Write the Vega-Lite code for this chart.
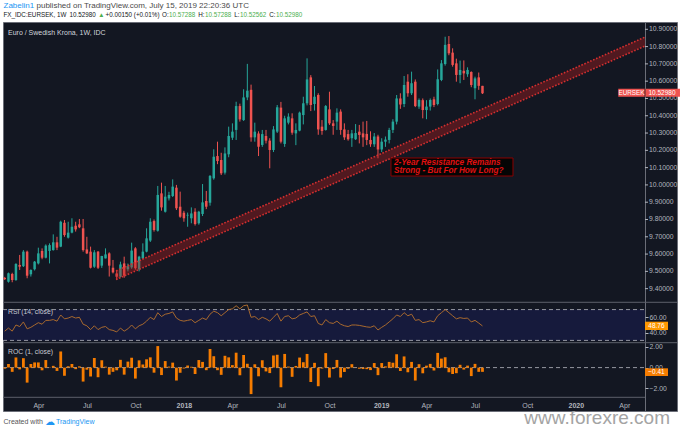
{
"$schema": "https://vega.github.io/schema/vega-lite/v6.json",
"width": 674, "height": 389,
"autosize": {"type": "none"},
"padding": {"left": 3, "top": 22, "right": 3, "bottom": 19},
"background": "#ffffff",
"config": {"font": "Liberation Sans", "view": {"fill": "#131722", "stroke": "#6b6e78", "strokeWidth": 1}, "axis": {"grid": false, "labelOverlap": false}},
"data": {"values": [{"k": 1}]},
"datasets": {
"pt": [{"v":9.4},{"v":9.5},{"v":9.6},{"v":9.7},{"v":9.8},{"v":9.9},{"v":10.0},{"v":10.1},{"v":10.2},{"v":10.3},{"v":10.4},{"v":10.5},{"v":10.6},{"v":10.7},{"v":10.8},{"v":10.9}],
"w": [
{"d":"2017-01-30","o":9.462,"h":9.468,"l":9.450,"c":9.455,"rsi":42,"roc":-0.10},
{"d":"2017-02-06","o":9.440,"h":9.493,"l":9.435,"c":9.489,"rsi":46,"roc":0.36},
{"d":"2017-02-13","o":9.485,"h":9.492,"l":9.437,"c":9.450,"rsi":42,"roc":-0.41},
{"d":"2017-02-20","o":9.450,"h":9.547,"l":9.445,"c":9.543,"rsi":50,"roc":0.98},
{"d":"2017-02-27","o":9.537,"h":9.595,"l":9.508,"c":9.527,"rsi":48,"roc":-0.17},
{"d":"2017-03-06","o":9.530,"h":9.623,"l":9.525,"c":9.614,"rsi":54,"roc":0.91},
{"d":"2017-03-13","o":9.614,"h":9.620,"l":9.460,"c":9.475,"rsi":45,"roc":-1.45},
{"d":"2017-03-20","o":9.483,"h":9.512,"l":9.470,"c":9.508,"rsi":47,"roc":0.35},
{"d":"2017-03-27","o":9.512,"h":9.560,"l":9.505,"c":9.556,"rsi":50,"roc":0.50},
{"d":"2017-04-03","o":9.546,"h":9.637,"l":9.540,"c":9.604,"rsi":53,"roc":0.50},
{"d":"2017-04-10","o":9.618,"h":9.633,"l":9.570,"c":9.579,"rsi":51,"roc":-0.26},
{"d":"2017-04-17","o":9.579,"h":9.656,"l":9.575,"c":9.649,"rsi":56,"roc":0.73},
{"d":"2017-04-24","o":9.618,"h":9.662,"l":9.546,"c":9.652,"rsi":56,"roc":0.03},
{"d":"2017-05-01","o":9.623,"h":9.714,"l":9.620,"c":9.668,"rsi":57,"roc":0.17},
{"d":"2017-05-08","o":9.668,"h":9.700,"l":9.623,"c":9.637,"rsi":55,"roc":-0.32},
{"d":"2017-05-15","o":9.643,"h":9.793,"l":9.640,"c":9.787,"rsi":63,"roc":1.56},
{"d":"2017-05-22","o":9.781,"h":9.797,"l":9.700,"c":9.710,"rsi":58,"roc":-0.79},
{"d":"2017-05-29","o":9.695,"h":9.787,"l":9.690,"c":9.724,"rsi":59,"roc":0.14},
{"d":"2017-06-05","o":9.724,"h":9.807,"l":9.720,"c":9.758,"rsi":61,"roc":0.35},
{"d":"2017-06-12","o":9.764,"h":9.787,"l":9.730,"c":9.743,"rsi":59,"roc":-0.15},
{"d":"2017-06-19","o":9.772,"h":9.803,"l":9.750,"c":9.755,"rsi":60,"roc":0.12},
{"d":"2017-06-26","o":9.749,"h":9.803,"l":9.614,"c":9.623,"rsi":51,"roc":-1.35},
{"d":"2017-07-03","o":9.627,"h":9.700,"l":9.600,"c":9.604,"rsi":49,"roc":-0.20},
{"d":"2017-07-10","o":9.614,"h":9.643,"l":9.517,"c":9.521,"rsi":44,"roc":-0.86},
{"d":"2017-07-17","o":9.527,"h":9.623,"l":9.520,"c":9.610,"rsi":49,"roc":0.93},
{"d":"2017-07-24","o":9.614,"h":9.618,"l":9.514,"c":9.521,"rsi":44,"roc":-0.93},
{"d":"2017-07-31","o":9.533,"h":9.590,"l":9.520,"c":9.589,"rsi":47,"roc":0.71},
{"d":"2017-08-07","o":9.575,"h":9.633,"l":9.575,"c":9.598,"rsi":48,"roc":0.09},
{"d":"2017-08-14","o":9.604,"h":9.610,"l":9.470,"c":9.533,"rsi":44,"roc":-0.68},
{"d":"2017-08-21","o":9.521,"h":9.566,"l":9.488,"c":9.494,"rsi":43,"roc":-0.41},
{"d":"2017-08-28","o":9.488,"h":9.508,"l":9.450,"c":9.469,"rsi":41,"roc":-0.26},
{"d":"2017-09-04","o":9.469,"h":9.556,"l":9.465,"c":9.540,"rsi":46,"roc":0.75},
{"d":"2017-09-11","o":9.546,"h":9.585,"l":9.463,"c":9.475,"rsi":42,"roc":-0.68},
{"d":"2017-09-18","o":9.512,"h":9.545,"l":9.500,"c":9.530,"rsi":45,"roc":0.58},
{"d":"2017-09-25","o":9.523,"h":9.666,"l":9.515,"c":9.620,"rsi":50,"roc":0.94},
{"d":"2017-10-02","o":9.633,"h":9.640,"l":9.510,"c":9.518,"rsi":45,"roc":-1.06},
{"d":"2017-10-09","o":9.512,"h":9.590,"l":9.500,"c":9.585,"rsi":49,"roc":0.70},
{"d":"2017-10-16","o":9.575,"h":9.662,"l":9.570,"c":9.614,"rsi":51,"roc":0.30},
{"d":"2017-10-23","o":9.614,"h":9.749,"l":9.610,"c":9.691,"rsi":55,"roc":0.80},
{"d":"2017-10-30","o":9.678,"h":9.807,"l":9.670,"c":9.787,"rsi":60,"roc":0.99},
{"d":"2017-11-06","o":9.791,"h":9.800,"l":9.730,"c":9.739,"rsi":57,"roc":-0.49},
{"d":"2017-11-13","o":9.735,"h":9.994,"l":9.730,"c":9.942,"rsi":66,"roc":2.08},
{"d":"2017-11-20","o":9.951,"h":10.013,"l":9.851,"c":9.870,"rsi":61,"roc":-0.72},
{"d":"2017-11-27","o":9.845,"h":9.994,"l":9.840,"c":9.932,"rsi":64,"roc":0.63},
{"d":"2017-12-04","o":9.922,"h":9.960,"l":9.910,"c":9.942,"rsi":65,"roc":0.10},
{"d":"2017-12-11","o":9.936,"h":10.032,"l":9.930,"c":9.990,"rsi":67,"roc":0.48},
{"d":"2017-12-18","o":9.984,"h":10.000,"l":9.855,"c":9.865,"rsi":59,"roc":-1.25},
{"d":"2017-12-25","o":9.874,"h":9.961,"l":9.810,"c":9.816,"rsi":56,"roc":-0.50},
{"d":"2018-01-01","o":9.839,"h":9.850,"l":9.787,"c":9.807,"rsi":55,"roc":-0.09},
{"d":"2018-01-08","o":9.823,"h":9.840,"l":9.758,"c":9.827,"rsi":56,"roc":0.20},
{"d":"2018-01-15","o":9.807,"h":9.870,"l":9.778,"c":9.835,"rsi":57,"roc":0.08},
{"d":"2018-01-22","o":9.845,"h":9.865,"l":9.765,"c":9.774,"rsi":53,"roc":-0.62},
{"d":"2018-01-29","o":9.778,"h":9.850,"l":9.770,"c":9.845,"rsi":56,"roc":0.73},
{"d":"2018-02-05","o":9.832,"h":10.005,"l":9.820,"c":9.899,"rsi":59,"roc":0.55},
{"d":"2018-02-12","o":9.907,"h":9.965,"l":9.860,"c":9.874,"rsi":57,"roc":-0.25},
{"d":"2018-02-19","o":9.897,"h":10.057,"l":9.880,"c":10.052,"rsi":64,"roc":1.80},
{"d":"2018-02-26","o":10.038,"h":10.206,"l":10.030,"c":10.163,"rsi":68,"roc":1.10},
{"d":"2018-03-05","o":10.167,"h":10.250,"l":10.120,"c":10.138,"rsi":66,"roc":-0.25},
{"d":"2018-03-12","o":10.144,"h":10.186,"l":10.057,"c":10.067,"rsi":62,"roc":-0.70},
{"d":"2018-03-19","o":10.071,"h":10.217,"l":10.060,"c":10.182,"rsi":66,"roc":1.14},
{"d":"2018-03-26","o":10.177,"h":10.337,"l":10.160,"c":10.283,"rsi":70,"roc":0.99},
{"d":"2018-04-02","o":10.273,"h":10.356,"l":10.260,"c":10.308,"rsi":71,"roc":0.24},
{"d":"2018-04-09","o":10.318,"h":10.481,"l":10.260,"c":10.456,"rsi":75,"roc":1.44},
{"d":"2018-04-16","o":10.456,"h":10.470,"l":10.366,"c":10.379,"rsi":71,"roc":-0.74},
{"d":"2018-04-23","o":10.375,"h":10.553,"l":10.370,"c":10.506,"rsi":75,"roc":1.22},
{"d":"2018-04-30","o":10.506,"h":10.700,"l":10.490,"c":10.545,"rsi":76,"roc":0.37},
{"d":"2018-05-07","o":10.550,"h":10.580,"l":10.250,"c":10.275,"rsi":60,"roc":-2.56},
{"d":"2018-05-14","o":10.275,"h":10.360,"l":10.250,"c":10.308,"rsi":61,"roc":0.32},
{"d":"2018-05-21","o":10.298,"h":10.310,"l":10.167,"c":10.221,"rsi":57,"roc":-0.84},
{"d":"2018-05-28","o":10.231,"h":10.318,"l":10.220,"c":10.294,"rsi":60,"roc":0.71},
{"d":"2018-06-04","o":10.283,"h":10.318,"l":10.240,"c":10.256,"rsi":58,"roc":-0.37},
{"d":"2018-06-11","o":10.256,"h":10.270,"l":10.096,"c":10.202,"rsi":55,"roc":-0.53},
{"d":"2018-06-18","o":10.202,"h":10.340,"l":10.190,"c":10.321,"rsi":60,"roc":1.17},
{"d":"2018-06-25","o":10.308,"h":10.462,"l":10.300,"c":10.449,"rsi":65,"roc":1.24},
{"d":"2018-07-02","o":10.447,"h":10.480,"l":10.240,"c":10.250,"rsi":55,"roc":-1.90},
{"d":"2018-07-09","o":10.237,"h":10.400,"l":10.220,"c":10.385,"rsi":61,"roc":1.32},
{"d":"2018-07-16","o":10.360,"h":10.414,"l":10.350,"c":10.395,"rsi":62,"roc":0.10},
{"d":"2018-07-23","o":10.385,"h":10.414,"l":10.290,"c":10.302,"rsi":58,"roc":-0.89},
{"d":"2018-07-30","o":10.298,"h":10.356,"l":10.230,"c":10.318,"rsi":59,"roc":0.16},
{"d":"2018-08-06","o":10.314,"h":10.424,"l":10.310,"c":10.418,"rsi":63,"roc":0.97},
{"d":"2018-08-13","o":10.404,"h":10.510,"l":10.350,"c":10.472,"rsi":65,"roc":0.52},
{"d":"2018-08-20","o":10.472,"h":10.732,"l":10.460,"c":10.610,"rsi":67,"roc":1.32},
{"d":"2018-08-27","o":10.622,"h":10.635,"l":10.427,"c":10.462,"rsi":61,"roc":-1.39},
{"d":"2018-09-03","o":10.468,"h":10.572,"l":10.430,"c":10.510,"rsi":62,"roc":0.46},
{"d":"2018-09-10","o":10.520,"h":10.530,"l":10.290,"c":10.321,"rsi":52,"roc":-1.80},
{"d":"2018-09-17","o":10.337,"h":10.375,"l":10.290,"c":10.312,"rsi":50,"roc":-0.09},
{"d":"2018-09-24","o":10.318,"h":10.462,"l":10.314,"c":10.456,"rsi":57,"roc":1.40},
{"d":"2018-10-01","o":10.437,"h":10.539,"l":10.347,"c":10.356,"rsi":53,"roc":-0.96},
{"d":"2018-10-08","o":10.356,"h":10.375,"l":10.290,"c":10.341,"rsi":52,"roc":-0.14},
{"d":"2018-10-15","o":10.366,"h":10.443,"l":10.318,"c":10.418,"rsi":55,"roc":0.74},
{"d":"2018-10-22","o":10.424,"h":10.437,"l":10.290,"c":10.318,"rsi":51,"roc":-0.96},
{"d":"2018-10-29","o":10.321,"h":10.356,"l":10.260,"c":10.275,"rsi":49,"roc":-0.42},
{"d":"2018-11-05","o":10.294,"h":10.318,"l":10.256,"c":10.264,"rsi":48,"roc":-0.11},
{"d":"2018-11-12","o":10.270,"h":10.318,"l":10.220,"c":10.298,"rsi":50,"roc":0.33},
{"d":"2018-11-19","o":10.264,"h":10.352,"l":10.260,"c":10.300,"rsi":50,"roc":0.02},
{"d":"2018-11-26","o":10.308,"h":10.347,"l":10.240,"c":10.289,"rsi":49.5,"roc":-0.11},
{"d":"2018-12-03","o":10.298,"h":10.366,"l":10.220,"c":10.275,"rsi":48.5,"roc":-0.14},
{"d":"2018-12-10","o":10.295,"h":10.370,"l":10.230,"c":10.260,"rsi":47.5,"roc":-0.15},
{"d":"2018-12-17","o":10.260,"h":10.310,"l":10.220,"c":10.235,"rsi":47,"roc":-0.24},
{"d":"2018-12-24","o":10.235,"h":10.300,"l":10.220,"c":10.280,"rsi":49,"roc":0.44},
{"d":"2018-12-31","o":10.280,"h":10.290,"l":10.154,"c":10.205,"rsi":43.5,"roc":-0.73},
{"d":"2019-01-07","o":10.205,"h":10.270,"l":10.190,"c":10.250,"rsi":47,"roc":0.44},
{"d":"2019-01-14","o":10.250,"h":10.280,"l":10.220,"c":10.262,"rsi":50,"roc":0.12},
{"d":"2019-01-21","o":10.260,"h":10.330,"l":10.240,"c":10.318,"rsi":54,"roc":0.55},
{"d":"2019-01-28","o":10.318,"h":10.380,"l":10.300,"c":10.366,"rsi":58,"roc":0.47},
{"d":"2019-02-04","o":10.366,"h":10.520,"l":10.350,"c":10.500,"rsi":63,"roc":1.29},
{"d":"2019-02-11","o":10.500,"h":10.530,"l":10.440,"c":10.465,"rsi":61,"roc":-0.33},
{"d":"2019-02-18","o":10.468,"h":10.630,"l":10.450,"c":10.578,"rsi":66,"roc":1.08},
{"d":"2019-02-25","o":10.597,"h":10.640,"l":10.510,"c":10.530,"rsi":62,"roc":-0.45},
{"d":"2019-03-04","o":10.530,"h":10.655,"l":10.520,"c":10.588,"rsi":64,"roc":0.55},
{"d":"2019-03-11","o":10.597,"h":10.610,"l":10.450,"c":10.456,"rsi":56,"roc":-1.25},
{"d":"2019-03-18","o":10.453,"h":10.500,"l":10.440,"c":10.491,"rsi":57,"roc":0.33},
{"d":"2019-03-25","o":10.490,"h":10.500,"l":10.385,"c":10.433,"rsi":53,"roc":-0.55},
{"d":"2019-04-01","o":10.433,"h":10.490,"l":10.380,"c":10.453,"rsi":54,"roc":0.19},
{"d":"2019-04-08","o":10.453,"h":10.500,"l":10.430,"c":10.491,"rsi":55.5,"roc":0.36},
{"d":"2019-04-15","o":10.495,"h":10.510,"l":10.450,"c":10.462,"rsi":54,"roc":-0.28},
{"d":"2019-04-22","o":10.468,"h":10.668,"l":10.460,"c":10.611,"rsi":62,"roc":1.42},
{"d":"2019-04-29","o":10.607,"h":10.722,"l":10.600,"c":10.703,"rsi":66,"roc":0.87},
{"d":"2019-05-06","o":10.699,"h":10.857,"l":10.690,"c":10.810,"rsi":70,"roc":1.00},
{"d":"2019-05-13","o":10.815,"h":10.861,"l":10.750,"c":10.761,"rsi":66,"roc":-0.45},
{"d":"2019-05-20","o":10.765,"h":10.790,"l":10.684,"c":10.694,"rsi":62,"roc":-0.62},
{"d":"2019-05-27","o":10.703,"h":10.730,"l":10.597,"c":10.636,"rsi":58,"roc":-0.54},
{"d":"2019-06-03","o":10.636,"h":10.719,"l":10.588,"c":10.665,"rsi":59.5,"roc":0.27},
{"d":"2019-06-10","o":10.660,"h":10.720,"l":10.607,"c":10.645,"rsi":58.5,"roc":-0.19},
{"d":"2019-06-17","o":10.640,"h":10.680,"l":10.625,"c":10.665,"rsi":59,"roc":0.19},
{"d":"2019-06-24","o":10.653,"h":10.657,"l":10.565,"c":10.578,"rsi":54,"roc":-0.82},
{"d":"2019-07-01","o":10.559,"h":10.626,"l":10.495,"c":10.616,"rsi":56,"roc":0.36},
{"d":"2019-07-08","o":10.622,"h":10.650,"l":10.550,"c":10.573,"rsi":52.5,"roc":-0.41},
{"d":"2019-07-15","o":10.57288,"h":10.57288,"l":10.52562,"c":10.5298,"rsi":48.76,"roc":-0.41}
],
"band": [
{"d":"2017-08-26T17:00:00Z","lo":9.4524,"hi":9.5027},
{"d":"2020-05-14T18:40:00Z","lo":10.803,"hi":10.855}
]
},
"resolve": {"scale": {"y": "independent"}, "axis": {"y": "independent"}},
"layer": [
{
"layer": [
{"data": {"name": "w"}, "mark": {"type": "rule", "strokeWidth": 1},
 "encoding": {
  "x": {"field": "d", "type": "temporal", "scale": {"type": "utc", "padding": 0, "nice": false, "domain": [{"year":2017,"month":1,"date":26,"hours":17,"minutes":31,"utc":true},{"year":2020,"month":7,"date":13,"hours":19,"minutes":55,"utc":true}]},
   "axis": {"orient": "bottom", "offset": -14, "values": [{"year":2017,"month":4,"date":3,"utc":true},{"year":2017,"month":7,"date":3,"utc":true},{"year":2017,"month":10,"date":2,"utc":true},{"year":2018,"month":1,"date":1,"utc":true},{"year":2018,"month":4,"date":2,"utc":true},{"year":2018,"month":7,"date":2,"utc":true},{"year":2018,"month":10,"date":1,"utc":true},{"year":2019,"month":1,"date":6,"utc":true},{"year":2019,"month":4,"date":1,"utc":true},{"year":2019,"month":7,"date":1,"utc":true},{"year":2019,"month":10,"date":7,"utc":true},{"year":2020,"month":1,"date":6,"utc":true},{"year":2020,"month":4,"date":6,"utc":true}],
    "labelExpr": "utcmonth(datum.value) === 0 ? utcFormat(datum.value, '%Y') : utcFormat(datum.value, '%b')",
    "labelFontWeight": {"condition": {"test": "utcmonth(datum.value) === 0", "value": "bold"}, "value": "normal"},
    "labelFontSize": 7, "labelColor": "#b2b5be", "labelPadding": 4, "ticks": false, "domain": false, "grid": false, "title": null, "labelFlush": false, "labelOverlap": false}},
  "y": {"field": "l", "type": "quantitative", "scale": {"domain": [8.6924, 10.9422], "zero": false, "nice": false},
   "axis": {"orient": "right", "offset": -32, "labels": false, "ticks": false, "domain": true, "domainColor": "#6b6e78", "grid": false, "title": null}},
  "y2": {"field": "h"},
  "color": {"condition": {"test": "datum.c >= datum.o", "value": "#26a69a"}, "value": "#ef5350"}
 }},
{"data": {"name": "w"}, "mark": {"type": "bar", "width": 2.5},
 "encoding": {
  "x": {"field": "d", "type": "temporal"},
  "y": {"field": "o", "type": "quantitative"},
  "y2": {"field": "c"},
  "color": {"condition": {"test": "datum.c >= datum.o", "value": "#26a69a"}, "value": "#ef5350"}
 }},
{"data": {"name": "band"}, "mark": {"type": "area", "color": "#b71c1c", "opacity": 0.38},
 "encoding": {
  "x": {"field": "d", "type": "temporal"},
  "y": {"field": "hi", "type": "quantitative"},
  "y2": {"field": "lo"}
 }},
{"data": {"name": "band"}, "mark": {"type": "line", "color": "#d32f2f", "strokeWidth": 1.6, "strokeDash": [1.6, 1.6]},
 "encoding": {
  "x": {"field": "d", "type": "temporal"},
  "y": {"field": "hi", "type": "quantitative"}
 }},
{"data": {"name": "band"}, "mark": {"type": "line", "color": "#d32f2f", "strokeWidth": 1.6, "strokeDash": [1.6, 1.6]},
 "encoding": {
  "x": {"field": "d", "type": "temporal"},
  "y": {"field": "lo", "type": "quantitative"}
 }},
{"data": {"name": "pt"}, "mark": {"type": "rule", "color": "#b2b5be", "strokeWidth": 1},
 "encoding": {
  "x": {"datum": {"year":2020,"month":5,"date":14,"hours":18,"minutes":40,"utc":true}, "type": "temporal"},
  "x2": {"datum": {"year":2020,"month":5,"date":20,"hours":10,"utc":true}},
  "y": {"field": "v", "type": "quantitative"}
 }},
{"data": {"name": "pt"}, "mark": {"type": "text", "align": "left", "baseline": "middle", "fontSize": 6.8, "color": "#b2b5be"},
 "encoding": {
  "x": {"datum": {"year":2020,"month":5,"date":22,"hours":7,"utc":true}, "type": "temporal"},
  "y": {"field": "v", "type": "quantitative"},
  "text": {"field": "v", "type": "quantitative", "format": ".5f"}
 }},
{"mark": {"type": "rect", "fill": "#050505", "stroke": "#8b0000", "strokeWidth": 1},
 "encoding": {
  "x": {"datum": {"year":2019,"month":1,"date":24,"hours":10,"utc":true}, "type": "temporal"},
  "x2": {"datum": {"year":2019,"month":9,"date":10,"hours":5,"utc":true}},
  "y": {"datum": 10.1557, "type": "quantitative"},
  "y2": {"datum": 10.0515}
 }},
{"mark": {"type": "text", "text": "2-Year Resistance Remains", "align": "left", "baseline": "middle", "fontSize": 8.2, "fontStyle": "italic", "fontWeight": "bold", "color": "#e01010"},
 "encoding": {
  "x": {"datum": {"year":2019,"month":1,"date":29,"hours":22,"utc":true}, "type": "temporal"},
  "y": {"datum": 10.1279, "type": "quantitative"}
 }},
{"mark": {"type": "text", "text": "Strong - But For How Long?", "align": "left", "baseline": "middle", "fontSize": 8.2, "fontStyle": "italic", "fontWeight": "bold", "color": "#e01010"},
 "encoding": {
  "x": {"datum": {"year":2019,"month":1,"date":29,"hours":22,"utc":true}, "type": "temporal"},
  "y": {"datum": 10.0793, "type": "quantitative"}
 }},
{"mark": {"type": "rect", "color": "#ef5350"},
 "encoding": {
  "x": {"datum": {"year":2020,"month":3,"date":25,"hours":17,"utc":true}, "type": "temporal"},
  "x2": {"datum": {"year":2020,"month":7,"date":19,"hours":10,"utc":true}},
  "y": {"datum": 10.5564, "type": "quantitative"},
  "y2": {"datum": 10.5102}
 }},
{"mark": {"type": "rule", "color": "#131722", "strokeWidth": 0.8},
 "encoding": {
  "x": {"datum": {"year":2020,"month":5,"date":14,"hours":18,"minutes":40,"utc":true}, "type": "temporal"},
  "y": {"datum": 10.5564, "type": "quantitative"},
  "y2": {"datum": 10.5102}
 }},
{"mark": {"type": "text", "text": "EURSEK", "align": "center", "baseline": "middle", "fontSize": 6.3, "color": "#ffffff"},
 "encoding": {
  "x": {"datum": {"year":2020,"month":4,"date":19,"hours":11,"utc":true}, "type": "temporal"},
  "y": {"datum": 10.5333, "type": "quantitative"}
 }},
{"mark": {"type": "text", "text": "10.52980", "align": "center", "baseline": "middle", "fontSize": 6.5, "color": "#ffffff"},
 "encoding": {
  "x": {"datum": {"year":2020,"month":6,"date":15,"hours":16,"utc":true}, "type": "temporal"},
  "y": {"datum": 10.5333, "type": "quantitative"}
 }},
{"mark": {"type": "text", "text": "Euro / Swedish Krona, 1W, IDC", "align": "left", "baseline": "middle", "fontSize": 7, "color": "#d1d4dc"},
 "encoding": {
  "x": {"datum": {"year":2017,"month":2,"date":5,"hours":2,"utc":true}, "type": "temporal"},
  "y": {"datum": 10.8786, "type": "quantitative"}
 }},
{"mark": {"type": "text", "text": "Zabelin1", "align": "left", "baseline": "middle", "fontSize": 8, "color": "#2196f3"},
 "encoding": {
  "x": {"datum": {"year":2017,"month":1,"date":27,"hours":16,"utc":true}, "type": "temporal"},
  "y": {"datum": 11.0348, "type": "quantitative"}
 }},
{"mark": {"type": "text", "text": "published on TradingView.com, July 15, 2019 22:20:36 UTC", "align": "left", "baseline": "middle", "fontSize": 8, "color": "#4a4a4a"},
 "encoding": {
  "x": {"datum": {"year":2017,"month":3,"date":30,"hours":13,"utc":true}, "type": "temporal"},
  "y": {"datum": 11.0348, "type": "quantitative"}
 }},
{"mark": {"type": "text", "text": "FX_IDC:EURSEK, 1W", "align": "left", "baseline": "middle", "fontSize": 6.3, "color": "#131722"},
 "encoding": {
  "x": {"datum": {"year":2017,"month":1,"date":27,"hours":16,"utc":true}, "type": "temporal"},
  "y": {"datum": 10.9827, "type": "quantitative"}
 }},
{"mark": {"type": "text", "text": "10.52980", "align": "left", "baseline": "middle", "fontSize": 6.3, "color": "#131722"},
 "encoding": {
  "x": {"datum": {"year":2017,"month":5,"date":31,"hours":11,"utc":true}, "type": "temporal"},
  "y": {"datum": 10.9827, "type": "quantitative"}
 }},
{"mark": {"type": "text", "text": "▲", "align": "left", "baseline": "middle", "fontSize": 6.3, "color": "#4caf50"},
 "encoding": {
  "x": {"datum": {"year":2017,"month":7,"date":24,"hours":11,"utc":true}, "type": "temporal"},
  "y": {"datum": 10.9827, "type": "quantitative"}
 }},
{"mark": {"type": "text", "text": "+0.00150 (+0.01%)", "align": "left", "baseline": "middle", "fontSize": 6.3, "color": "#131722"},
 "encoding": {
  "x": {"datum": {"year":2017,"month":8,"date":7,"hours":4,"utc":true}, "type": "temporal"},
  "y": {"datum": 10.9827, "type": "quantitative"}
 }},
{"mark": {"type": "text", "text": "O:", "align": "left", "baseline": "middle", "fontSize": 6.3, "color": "#131722"},
 "encoding": {
  "x": {"datum": {"year":2017,"month":11,"date":20,"hours":22,"utc":true}, "type": "temporal"},
  "y": {"datum": 10.9827, "type": "quantitative"}
 }},
{"mark": {"type": "text", "text": "10.57288", "align": "left", "baseline": "middle", "fontSize": 6.3, "color": "#4caf50"},
 "encoding": {
  "x": {"datum": {"year":2017,"month":12,"date":4,"hours":1,"minutes":30,"utc":true}, "type": "temporal"},
  "y": {"datum": 10.9827, "type": "quantitative"}
 }},
{"mark": {"type": "text", "text": "H:", "align": "left", "baseline": "middle", "fontSize": 6.3, "color": "#131722"},
 "encoding": {
  "x": {"datum": {"year":2018,"month":1,"date":28,"utc":true}, "type": "temporal"},
  "y": {"datum": 10.9827, "type": "quantitative"}
 }},
{"mark": {"type": "text", "text": "10.57288", "align": "left", "baseline": "middle", "fontSize": 6.3, "color": "#4caf50"},
 "encoding": {
  "x": {"datum": {"year":2018,"month":2,"date":9,"hours":14,"utc":true}, "type": "temporal"},
  "y": {"datum": 10.9827, "type": "quantitative"}
 }},
{"mark": {"type": "text", "text": "L:", "align": "left", "baseline": "middle", "fontSize": 6.3, "color": "#131722"},
 "encoding": {
  "x": {"datum": {"year":2018,"month":4,"date":5,"hours":12,"minutes":30,"utc":true}, "type": "temporal"},
  "y": {"datum": 10.9827, "type": "quantitative"}
 }},
{"mark": {"type": "text", "text": "10.52562", "align": "left", "baseline": "middle", "fontSize": 6.3, "color": "#4caf50"},
 "encoding": {
  "x": {"datum": {"year":2018,"month":4,"date":16,"hours":5,"utc":true}, "type": "temporal"},
  "y": {"datum": 10.9827, "type": "quantitative"}
 }},
{"mark": {"type": "text", "text": "C:", "align": "left", "baseline": "middle", "fontSize": 6.3, "color": "#131722"},
 "encoding": {
  "x": {"datum": {"year":2018,"month":6,"date":10,"hours":4,"utc":true}, "type": "temporal"},
  "y": {"datum": 10.9827, "type": "quantitative"}
 }},
{"mark": {"type": "text", "text": "10.52980", "align": "left", "baseline": "middle", "fontSize": 6.3, "color": "#4caf50"},
 "encoding": {
  "x": {"datum": {"year":2018,"month":6,"date":22,"hours":17,"minutes":30,"utc":true}, "type": "temporal"},
  "y": {"datum": 10.9827, "type": "quantitative"}
 }},
{"mark": {"type": "text", "text": "Created with", "align": "left", "baseline": "middle", "fontSize": 7, "color": "#555555"},
 "encoding": {
  "x": {"datum": {"year":2017,"month":1,"date":27,"hours":16,"utc":true}, "type": "temporal"},
  "y": {"datum": 8.6316, "type": "quantitative"}
 }},
{"mark": {"type": "text", "text": "☁", "align": "left", "baseline": "middle", "fontSize": 9.5, "color": "#2196f3"},
 "encoding": {
  "x": {"datum": {"year":2017,"month":4,"date":15,"hours":12,"utc":true}, "type": "temporal"},
  "y": {"datum": 8.6316, "type": "quantitative"}
 }},
{"mark": {"type": "text", "text": "TradingView", "align": "left", "baseline": "middle", "fontSize": 7, "color": "#2196f3"},
 "encoding": {
  "x": {"datum": {"year":2017,"month":5,"date":6,"hours":3,"utc":true}, "type": "temporal"},
  "y": {"datum": 8.6316, "type": "quantitative"}
 }},
{"mark": {"type": "text", "text": "www.forexre.com", "align": "right", "baseline": "alphabetic", "fontSize": 19, "color": "#a4a4a4"},
 "encoding": {
  "x": {"datum": {"year":2020,"month":6,"date":30,"hours":16,"utc":true}, "type": "temporal"},
  "y": {"datum": 8.6172, "type": "quantitative"}
 }}
]
},
{
"layer": [
{"mark": {"type": "rect", "color": "#161a3c"},
 "encoding": {
  "x": {"datum": {"year":2017,"month":1,"date":26,"hours":17,"minutes":31,"utc":true}, "type": "temporal"},
  "x2": {"datum": {"year":2020,"month":5,"date":14,"hours":18,"minutes":40,"utc":true}},
  "y": {"datum": 70, "type": "quantitative", "scale": {"domain": [-61.7, 443.5], "zero": false, "nice": false},
   "axis": {"orient": "right", "offset": -32, "values": [40, 60], "format": ".2f", "labelFontSize": 6.8, "labelColor": "#b2b5be", "tickColor": "#b2b5be", "tickSize": 3, "labelPadding": 1, "domain": false, "grid": false, "title": null, "labelFlush": false, "labelOverlap": false}},
  "y2": {"datum": 30}
 }},
{"mark": {"type": "rule", "color": "#9598a1", "strokeWidth": 1, "strokeDash": [4, 3]},
 "encoding": {
  "x": {"datum": {"year":2017,"month":1,"date":26,"hours":17,"minutes":31,"utc":true}, "type": "temporal"},
  "x2": {"datum": {"year":2020,"month":5,"date":14,"hours":18,"minutes":40,"utc":true}},
  "y": {"datum": 70, "type": "quantitative"}
 }},
{"mark": {"type": "rule", "color": "#9598a1", "strokeWidth": 1, "strokeDash": [4, 3]},
 "encoding": {
  "x": {"datum": {"year":2017,"month":1,"date":26,"hours":17,"minutes":31,"utc":true}, "type": "temporal"},
  "x2": {"datum": {"year":2020,"month":5,"date":14,"hours":18,"minutes":40,"utc":true}},
  "y": {"datum": 30, "type": "quantitative"}
 }},
{"mark": {"type": "rule", "color": "#5d606b", "strokeWidth": 1},
 "encoding": {"y": {"datum": 79.48, "type": "quantitative"}}},
{"mark": {"type": "rule", "color": "#5d606b", "strokeWidth": 1},
 "encoding": {"y": {"datum": 27.01, "type": "quantitative"}}},
{"data": {"name": "w"}, "mark": {"type": "line", "color": "#a8692e", "strokeWidth": 1},
 "encoding": {
  "x": {"field": "d", "type": "temporal"},
  "y": {"field": "rsi", "type": "quantitative"}
 }},
{"mark": {"type": "rect", "color": "#ff9800"},
 "encoding": {
  "x": {"datum": {"year":2020,"month":5,"date":14,"hours":18,"minutes":40,"utc":true}, "type": "temporal"},
  "x2": {"datum": {"year":2020,"month":6,"date":26,"hours":22,"utc":true}},
  "y": {"datum": 54.29, "type": "quantitative"},
  "y2": {"datum": 43.5}
 }},
{"mark": {"type": "text", "text": "48.76", "align": "center", "baseline": "middle", "fontSize": 6.5, "color": "#ffffff"},
 "encoding": {
  "x": {"datum": {"year":2020,"month":6,"date":5,"hours":8,"utc":true}, "type": "temporal"},
  "y": {"datum": 48.9, "type": "quantitative"}
 }},
{"mark": {"type": "text", "text": "RSI (14, close)", "align": "left", "baseline": "middle", "fontSize": 6.8, "color": "#c8cad2"},
 "encoding": {
  "x": {"datum": {"year":2017,"month":2,"date":5,"hours":2,"utc":true}, "type": "temporal"},
  "y": {"datum": 67.27, "type": "quantitative"}
 }}
]
},
{
"layer": [
{"mark": {"type": "rule", "color": "#9598a1", "strokeWidth": 1, "strokeDash": [4, 3]},
 "encoding": {
  "x": {"datum": {"year":2017,"month":1,"date":26,"hours":17,"minutes":31,"utc":true}, "type": "temporal"},
  "x2": {"datum": {"year":2020,"month":5,"date":14,"hours":18,"minutes":40,"utc":true}},
  "y": {"datum": 0, "type": "quantitative", "scale": {"domain": [-4.193, 33.391], "zero": false, "nice": false},
   "axis": {"orient": "right", "offset": -32, "values": [-2, 0, 2], "format": ".2f", "labelFontSize": 6.8, "labelColor": "#b2b5be", "tickColor": "#b2b5be", "tickSize": 3, "labelPadding": 1, "domain": false, "grid": false, "title": null, "labelFlush": false, "labelOverlap": false}}
 }},
{"mark": {"type": "rule", "color": "#5d606b", "strokeWidth": 1},
 "encoding": {
  "x": {"datum": {"year":2017,"month":1,"date":26,"hours":17,"minutes":31,"utc":true}, "type": "temporal"},
  "x2": {"datum": {"year":2020,"month":5,"date":14,"hours":18,"minutes":40,"utc":true}},
  "y": {"datum": -2.87, "type": "quantitative"}
 }},
{"data": {"name": "w"}, "mark": {"type": "bar", "width": 2.8, "color": "#f57c00"},
 "encoding": {
  "x": {"field": "d", "type": "temporal"},
  "y": {"field": "roc", "type": "quantitative"},
  "y2": {"datum": 0}
 }},
{"mark": {"type": "rect", "color": "#f57c00"},
 "encoding": {
  "x": {"datum": {"year":2020,"month":5,"date":14,"hours":18,"minutes":40,"utc":true}, "type": "temporal"},
  "x2": {"datum": {"year":2020,"month":6,"date":26,"hours":22,"utc":true}},
  "y": {"datum": -0.068, "type": "quantitative"},
  "y2": {"datum": -0.812}
 }},
{"mark": {"type": "text", "text": "−0.41", "align": "center", "baseline": "middle", "fontSize": 6.5, "color": "#ffffff"},
 "encoding": {
  "x": {"datum": {"year":2020,"month":6,"date":5,"hours":8,"utc":true}, "type": "temporal"},
  "y": {"datum": -0.44, "type": "quantitative"}
 }},
{"mark": {"type": "text", "text": "ROC (1, close)", "align": "left", "baseline": "middle", "fontSize": 6.8, "color": "#c8cad2"},
 "encoding": {
  "x": {"datum": {"year":2017,"month":2,"date":5,"hours":2,"utc":true}, "type": "temporal"},
  "y": {"datum": 1.536, "type": "quantitative"}
 }}
]
}
]
}
